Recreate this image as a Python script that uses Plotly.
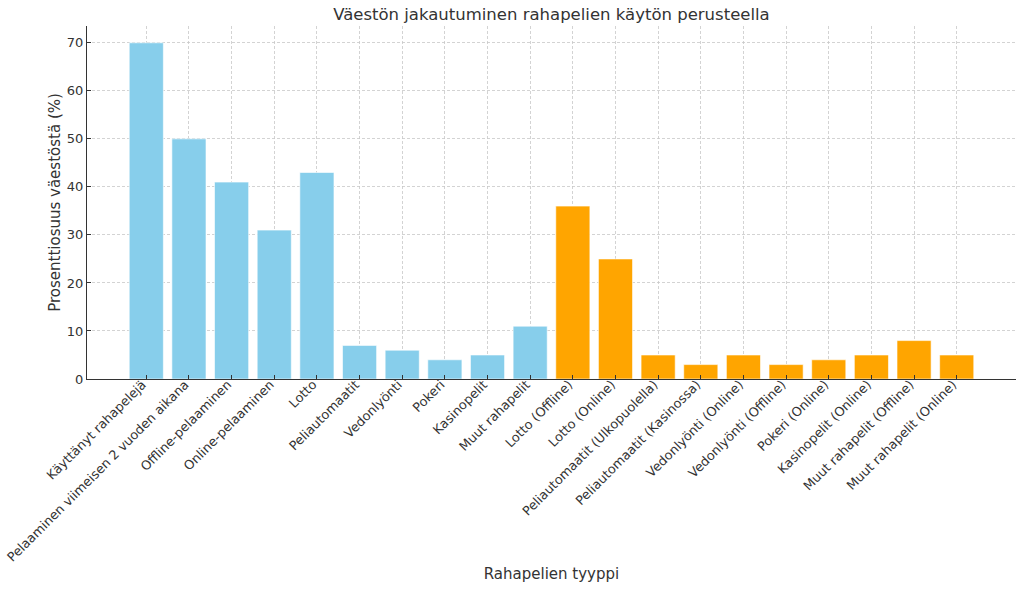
import plotly.graph_objects as go

categories = [
    "Käyttänyt rahapelejä", "Pelaaminen viimeisen 2 vuoden aikana", "Offline-pelaaminen",
    "Online-pelaaminen", "Lotto", "Peliautomaatit", "Vedonlyönti", "Pokeri", "Kasinopelit",
    "Muut rahapelit", "Lotto (Offline)", "Lotto (Online)", "Peliautomaatit (Ulkopuolella)",
    "Peliautomaatit (Kasinossa)", "Vedonlyönti (Online)", "Vedonlyönti (Offline)",
    "Pokeri (Online)", "Kasinopelit (Online)", "Muut rahapelit (Offline)", "Muut rahapelit (Online)",
]
values = [70, 50, 41, 31, 43, 7, 6, 4, 5, 11, 36, 25, 5, 3, 5, 3, 4, 5, 8, 5]
colors = ["#87CEEB"] * 10 + ["#FFA500"] * 10
y_ticks = [0, 10, 20, 30, 40, 50, 60, 70]

FONT = "DejaVu Sans, Verdana, sans-serif"
TXT = "#333333"
GRID = "rgba(200,200,200,0.8)"

fig = go.Figure()
fig.add_trace(go.Bar(
    x=categories, y=values,
    marker=dict(color=colors, line=dict(color="rgba(255,255,255,0.6)", width=1)),
    width=0.8, showlegend=False,
))

fig.update_layout(
    width=1024, height=589,
    margin=dict(l=87, r=8, t=26, b=210, autoexpand=False),
    paper_bgcolor="white", plot_bgcolor="white",
    font=dict(family=FONT, color=TXT, size=13),
    title=dict(text="Väestön jakautuminen rahapelien käytön perusteella",
               x=0.5385, xanchor="center", y=0.976, yanchor="middle",
               font=dict(size=16.5, color=TXT)),
)
fig.update_xaxes(
    range=[-1.39, 20.39], automargin=False,
    tickangle=-45, tickfont=dict(size=12.8, color=TXT),
    ticklabelshift=-4, ticklabelstandoff=-8,
    showline=True, linecolor="#333333", linewidth=1.2,
    ticks="inside", ticklen=4, tickcolor="#333333",
    showgrid=True, gridcolor=GRID, griddash="3px,2px", gridwidth=0.8,
    title=dict(text="Rahapelien tyyppi", font=dict(size=15, color=TXT), standoff=4),
    layer="above traces",
)
fig.update_yaxes(
    range=[0, 73.5], tickvals=y_ticks, tickfont=dict(size=13, color=TXT), automargin=False,
    showline=True, linecolor="#333333", linewidth=1.2,
    ticks="inside", ticklen=4, tickcolor="#333333",
    showgrid=True, gridcolor=GRID, griddash="3px,2px", gridwidth=0.8,
    zeroline=False,
    title=dict(text="Prosenttiosuus väestöstä (%)", font=dict(size=15, color=TXT), standoff=2),
    layer="above traces",
)

fig.write_html("out.html", config={"displayModeBar": False},
               post_script="document.body.style.margin='0';document.body.style.overflow='hidden';")
